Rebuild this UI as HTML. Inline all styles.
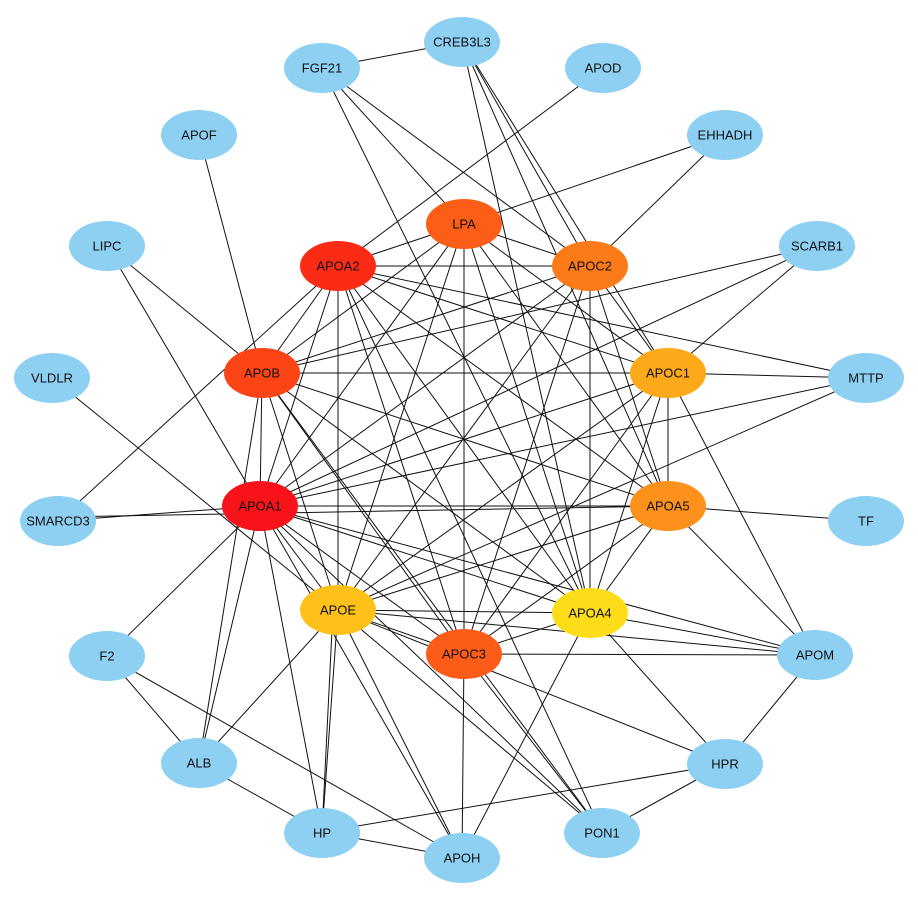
<!DOCTYPE html>
<html><head><meta charset="utf-8"><style>
html,body{margin:0;padding:0;background:#fff}
svg{display:block}
text{font-family:"Liberation Sans",sans-serif;font-size:13px;text-anchor:middle;dominant-baseline:central;fill:#111}
line{stroke:#111;stroke-width:1}
</style></head><body>
<svg width="918" height="898" viewBox="0 0 918 898" xmlns="http://www.w3.org/2000/svg">
<g>
<!-- hub complete graph -->
<line x1="260" y1="506" x2="338" y2="266"/><line x1="260" y1="506" x2="262" y2="373"/><line x1="260" y1="506" x2="464" y2="224"/><line x1="260" y1="506" x2="590" y2="266"/><line x1="260" y1="506" x2="668" y2="373"/><line x1="260" y1="506" x2="668" y2="506"/><line x1="260" y1="506" x2="338" y2="610"/><line x1="260" y1="506" x2="590" y2="613"/><line x1="260" y1="506" x2="464" y2="654"/>
<line x1="338" y1="266" x2="262" y2="373"/><line x1="338" y1="266" x2="464" y2="224"/><line x1="338" y1="266" x2="590" y2="266"/><line x1="338" y1="266" x2="668" y2="373"/><line x1="338" y1="266" x2="668" y2="506"/><line x1="338" y1="266" x2="338" y2="610"/><line x1="338" y1="266" x2="590" y2="613"/><line x1="338" y1="266" x2="464" y2="654"/>
<line x1="262" y1="373" x2="464" y2="224"/><line x1="262" y1="373" x2="590" y2="266"/><line x1="262" y1="373" x2="668" y2="373"/><line x1="262" y1="373" x2="668" y2="506"/><line x1="262" y1="373" x2="338" y2="610"/><line x1="262" y1="373" x2="590" y2="613"/><line x1="262" y1="373" x2="464" y2="654"/>
<line x1="464" y1="224" x2="590" y2="266"/><line x1="464" y1="224" x2="668" y2="373"/><line x1="464" y1="224" x2="668" y2="506"/><line x1="464" y1="224" x2="338" y2="610"/><line x1="464" y1="224" x2="590" y2="613"/><line x1="464" y1="224" x2="464" y2="654"/>
<line x1="590" y1="266" x2="668" y2="373"/><line x1="590" y1="266" x2="668" y2="506"/><line x1="590" y1="266" x2="338" y2="610"/><line x1="590" y1="266" x2="590" y2="613"/><line x1="590" y1="266" x2="464" y2="654"/>
<line x1="668" y1="373" x2="668" y2="506"/><line x1="668" y1="373" x2="338" y2="610"/><line x1="668" y1="373" x2="590" y2="613"/><line x1="668" y1="373" x2="464" y2="654"/>
<line x1="668" y1="506" x2="338" y2="610"/><line x1="668" y1="506" x2="590" y2="613"/><line x1="668" y1="506" x2="464" y2="654"/>
<line x1="338" y1="610" x2="590" y2="613"/><line x1="338" y1="610" x2="464" y2="654"/>
<line x1="590" y1="613" x2="464" y2="654"/>
<!-- peripheral -->
<line x1="322" y1="68" x2="462" y2="42"/><line x1="322" y1="68" x2="464" y2="224"/><line x1="322" y1="68" x2="590" y2="266"/><line x1="322" y1="68" x2="590" y2="613"/>
<line x1="462" y1="42" x2="590" y2="266"/><line x1="462" y1="42" x2="668" y2="506"/><line x1="462" y1="42" x2="590" y2="613"/><line x1="462" y1="42" x2="668" y2="373"/>
<line x1="603" y1="68" x2="338" y2="266"/>
<line x1="725" y1="135" x2="464" y2="224"/><line x1="725" y1="135" x2="590" y2="266"/>
<line x1="199" y1="135" x2="262" y2="373"/>
<line x1="107" y1="246" x2="262" y2="373"/><line x1="107" y1="246" x2="260" y2="506"/>
<line x1="817" y1="246" x2="262" y2="373"/><line x1="817" y1="246" x2="260" y2="506"/><line x1="817" y1="246" x2="668" y2="373"/>
<line x1="52" y1="378" x2="338" y2="610"/>
<line x1="866" y1="378" x2="338" y2="266"/><line x1="866" y1="378" x2="668" y2="373"/><line x1="866" y1="378" x2="260" y2="506"/><line x1="866" y1="378" x2="338" y2="610"/>
<line x1="58" y1="521" x2="338" y2="266"/><line x1="58" y1="521" x2="260" y2="506"/><line x1="58" y1="517" x2="668" y2="506"/>
<line x1="866" y1="521" x2="668" y2="506"/>
<line x1="107" y1="656" x2="260" y2="506"/><line x1="107" y1="656" x2="199" y2="763"/><line x1="107" y1="656" x2="462" y2="858"/>
<line x1="815" y1="655" x2="260" y2="506"/><line x1="815" y1="655" x2="338" y2="610"/><line x1="815" y1="655" x2="590" y2="613"/><line x1="815" y1="655" x2="464" y2="654"/><line x1="815" y1="655" x2="668" y2="373"/><line x1="815" y1="655" x2="668" y2="506"/><line x1="815" y1="655" x2="725" y2="764"/>
<line x1="199" y1="763" x2="260" y2="506"/><line x1="199" y1="763" x2="262" y2="373"/><line x1="199" y1="763" x2="338" y2="610"/><line x1="199" y1="763" x2="322" y2="832"/>
<line x1="725" y1="764" x2="590" y2="613"/><line x1="725" y1="764" x2="322" y2="832"/><line x1="725" y1="764" x2="602" y2="832"/><line x1="725" y1="764" x2="338" y2="610"/>
<line x1="322" y1="832" x2="260" y2="506"/><line x1="322" y1="832" x2="338" y2="610"/><line x1="322" y1="832" x2="333" y2="610"/><line x1="322" y1="832" x2="462" y2="858"/>
<line x1="602" y1="832" x2="260" y2="506"/><line x1="602" y1="832" x2="338" y2="610"/><line x1="602" y1="832" x2="464" y2="654"/><line x1="602" y1="832" x2="338" y2="266"/><line x1="602" y1="832" x2="262" y2="373"/>
<line x1="462" y1="858" x2="338" y2="610"/><line x1="462" y1="858" x2="590" y2="613"/><line x1="462" y1="858" x2="464" y2="654"/><line x1="462" y1="858" x2="260" y2="506"/>
</g>
<g>
<ellipse cx="462" cy="42" rx="38" ry="25" fill="#8dd0f2"/><text x="462" y="42">CREB3L3</text>
<ellipse cx="322" cy="68" rx="38" ry="25" fill="#8dd0f2"/><text x="322" y="68">FGF21</text>
<ellipse cx="603" cy="68" rx="38" ry="25" fill="#8dd0f2"/><text x="603" y="68">APOD</text>
<ellipse cx="199" cy="135" rx="38" ry="25" fill="#8dd0f2"/><text x="199" y="135">APOF</text>
<ellipse cx="725" cy="135" rx="38" ry="25" fill="#8dd0f2"/><text x="725" y="135">EHHADH</text>
<ellipse cx="107" cy="246" rx="38" ry="25" fill="#8dd0f2"/><text x="107" y="246">LIPC</text>
<ellipse cx="817" cy="246" rx="38" ry="25" fill="#8dd0f2"/><text x="817" y="246">SCARB1</text>
<ellipse cx="52" cy="378" rx="38" ry="25" fill="#8dd0f2"/><text x="52" y="378">VLDLR</text>
<ellipse cx="866" cy="378" rx="38" ry="25" fill="#8dd0f2"/><text x="866" y="378">MTTP</text>
<ellipse cx="58" cy="521" rx="38" ry="25" fill="#8dd0f2"/><text x="58" y="521">SMARCD3</text>
<ellipse cx="866" cy="521" rx="38" ry="25" fill="#8dd0f2"/><text x="866" y="521">TF</text>
<ellipse cx="107" cy="656" rx="38" ry="25" fill="#8dd0f2"/><text x="107" y="656">F2</text>
<ellipse cx="815" cy="655" rx="38" ry="25" fill="#8dd0f2"/><text x="815" y="655">APOM</text>
<ellipse cx="199" cy="763" rx="38" ry="25" fill="#8dd0f2"/><text x="199" y="763">ALB</text>
<ellipse cx="725" cy="764" rx="38" ry="25" fill="#8dd0f2"/><text x="725" y="764">HPR</text>
<ellipse cx="322" cy="833" rx="38" ry="25" fill="#8dd0f2"/><text x="322" y="833">HP</text>
<ellipse cx="602" cy="833" rx="38" ry="25" fill="#8dd0f2"/><text x="602" y="833">PON1</text>
<ellipse cx="462" cy="858" rx="38" ry="25" fill="#8dd0f2"/><text x="462" y="858">APOH</text>
<ellipse cx="464" cy="224" rx="38" ry="25" fill="#fc5e17"/><text x="464" y="224">LPA</text>
<ellipse cx="338" cy="266" rx="38" ry="25" fill="#fb2b16"/><text x="338" y="266">APOA2</text>
<ellipse cx="590" cy="266" rx="38" ry="25" fill="#fd7a19"/><text x="590" y="266">APOC2</text>
<ellipse cx="262" cy="373" rx="38" ry="25" fill="#fc4414"/><text x="262" y="373">APOB</text>
<ellipse cx="668" cy="373" rx="38" ry="25" fill="#fda919"/><text x="668" y="373">APOC1</text>
<ellipse cx="260" cy="506" rx="38" ry="25" fill="#f81219"/><text x="260" y="506">APOA1</text>
<ellipse cx="668" cy="506" rx="38" ry="25" fill="#fc921b"/><text x="668" y="506">APOA5</text>
<ellipse cx="338" cy="610" rx="38" ry="25" fill="#fdc119"/><text x="338" y="610">APOE</text>
<ellipse cx="590" cy="613" rx="38" ry="25" fill="#fddd19"/><text x="590" y="613">APOA4</text>
<ellipse cx="464" cy="654" rx="38" ry="25" fill="#fc5c17"/><text x="464" y="654">APOC3</text>
</g>
</svg>
</body></html>
